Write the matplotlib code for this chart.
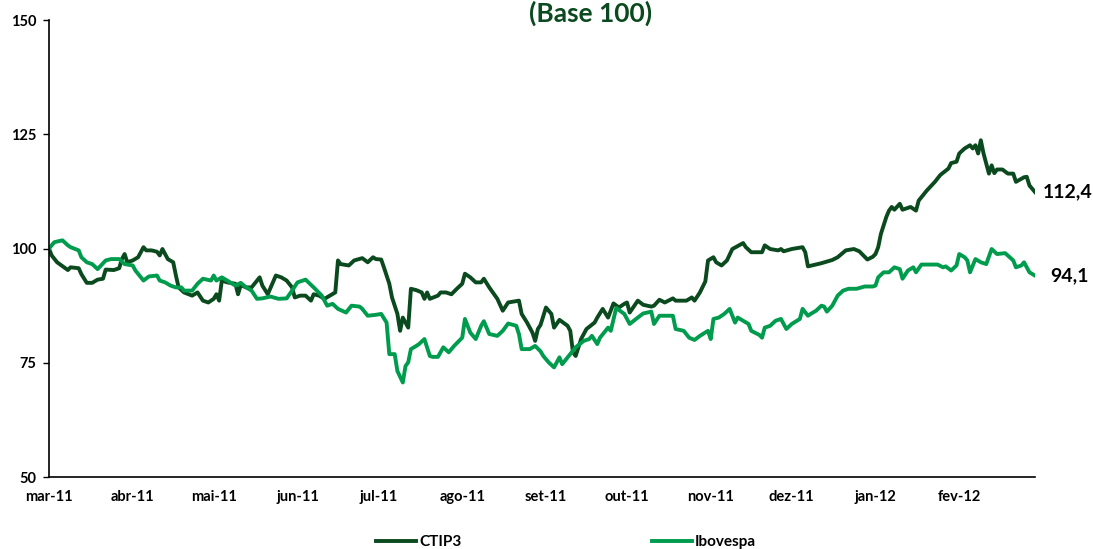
"""CTIP3 vs Ibovespa, base 100 (mar-11 to fev-12)."""

import matplotlib
matplotlib.use("Agg")
import matplotlib.pyplot as plt
import pandas as pd

START = pd.Timestamp("2011-03-01")

# calendar-day offsets from START and the base-100 values
ctip3_days = [0, 1, 3, 7, 8, 11, 12, 14, 16, 18, 20, 21, 24, 26, 27, 28, 29, 31, 33, 35,
              36, 38, 40, 41, 42, 44, 46, 47, 48, 50, 53, 55, 57, 59, 61, 62, 63, 64, 66, 69,
              70, 71, 73, 75, 78, 79, 81, 84, 86, 88, 90, 91, 93, 95, 97, 98, 100, 102, 104, 106,
              107, 108, 111, 113, 116, 118, 120, 121, 123, 124, 126, 127, 129, 130, 131, 133, 134, 136, 138, 139,
              140, 141, 144, 145, 147, 149, 151, 153, 154, 156, 158, 160, 161, 163, 166, 168, 170, 174, 175, 177,
              179, 180, 181, 182, 184, 186, 187, 189, 192, 193, 194, 195, 197, 199, 202, 203, 205, 207, 209, 211,
              213, 214, 215, 218, 220, 223, 224, 226, 228, 231, 232, 236, 238, 239, 241, 243, 244, 246, 247, 249,
              251, 253, 257, 258, 260, 264, 265, 267, 270, 271, 272, 275, 279, 280, 281, 286, 290, 292, 295, 298,
              300, 303, 305, 306, 307, 308, 310, 311, 312, 313, 315, 316, 319, 321, 322, 325, 328, 330, 333, 334,
              336, 337, 339, 341, 342, 343, 344, 345, 346, 347, 348, 349, 350, 351, 353, 355, 357, 358, 361, 362,
              363, 365]
ctip3_vals = [100.0, 98.5, 97.0, 95.3, 95.9, 95.7, 94.4, 92.5, 92.5, 93.2, 93.4, 95.4, 95.3, 95.7, 97.7, 98.8, 97.0, 97.4, 98.1, 100.3,
              99.6, 99.6, 99.3, 98.5, 99.9, 97.7, 97.0, 94.1, 91.5, 90.4, 89.7, 90.4, 88.6, 88.2, 89.0, 90.0, 88.6, 93.0, 92.6, 92.3,
              90.0, 92.0, 91.5, 91.5, 93.7, 91.9, 90.0, 94.1, 93.7, 93.0, 91.5, 89.3, 89.7, 89.7, 88.6, 90.0, 89.7, 89.0, 89.7, 90.4,
              97.4, 96.6, 96.3, 97.4, 97.9, 97.0, 98.1, 97.7, 97.6, 95.9, 92.3, 89.3, 85.7, 82.0, 84.9, 82.7, 91.2, 90.9, 90.4, 89.0,
              90.4, 89.0, 89.7, 90.4, 90.4, 90.0, 91.2, 92.3, 94.5, 93.7, 92.6, 92.6, 93.4, 91.5, 89.0, 86.4, 88.2, 88.6, 85.7, 83.8,
              81.6, 79.8, 82.4, 83.3, 87.1, 85.7, 82.7, 84.4, 83.1, 82.0, 77.3, 76.5, 80.2, 82.4, 83.8, 84.9, 86.8, 84.9, 88.0, 87.1,
              87.9, 88.2, 86.0, 88.6, 87.7, 87.3, 87.5, 88.8, 88.2, 89.1, 88.6, 88.6, 89.3, 88.6, 90.4, 92.8, 97.4, 98.1, 97.0, 96.3,
              97.4, 99.9, 101.2, 100.3, 99.2, 99.2, 100.7, 99.9, 99.6, 99.9, 99.4, 99.9, 100.3, 99.2, 96.1, 96.8, 97.5, 98.1, 99.6, 99.9,
              99.4, 97.6, 98.2, 98.8, 100.3, 103.2, 106.9, 108.3, 109.1, 108.5, 109.8, 108.5, 109.1, 108.3, 110.5, 112.7, 114.6, 116.1, 117.5, 118.7,
              119.0, 120.8, 121.9, 122.6, 121.9, 122.6, 120.8, 123.7, 120.8, 118.6, 116.4, 118.2, 116.5, 117.3, 117.3, 116.4, 116.4, 114.6, 115.6, 115.7,
              113.8, 112.4]

ibov_days = [0, 2, 5, 7, 8, 11, 12, 14, 16, 18, 21, 23, 26, 28, 31, 32, 35, 37, 40, 41,
             43, 45, 47, 49, 50, 53, 55, 57, 60, 61, 62, 64, 66, 69, 71, 73, 75, 77, 79, 82,
             85, 88, 90, 92, 95, 98, 101, 103, 105, 107, 110, 112, 115, 116, 118, 121, 123, 125, 126, 128,
             129, 131, 132, 133, 134, 136, 137, 139, 141, 142, 144, 146, 148, 150, 153, 154, 156, 158, 160, 161,
             163, 166, 168, 170, 173, 174, 175, 178, 180, 182, 183, 185, 187, 189, 190, 193, 195, 198, 200, 201,
             203, 204, 207, 208, 210, 213, 215, 218, 220, 223, 224, 226, 231, 232, 235, 237, 239, 241, 244, 245,
             246, 248, 250, 252, 254, 255, 257, 259, 260, 263, 264, 265, 267, 269, 271, 273, 275, 278, 279, 281,
             282, 284, 286, 287, 288, 290, 292, 294, 296, 299, 302, 305, 306, 307, 309, 311, 313, 315, 316, 318,
             320, 321, 323, 329, 331, 332, 334, 336, 337, 339, 340, 341, 343, 345, 347, 349, 351, 354, 357, 358,
             360, 361, 363, 365]
ibov_vals = [100.0, 101.4, 101.8, 100.7, 100.3, 99.6, 98.1, 97.0, 96.6, 95.5, 97.4, 97.7, 97.7, 96.6, 96.3, 95.2, 93.0, 93.9, 94.1, 93.0,
             92.6, 91.9, 91.5, 91.5, 90.8, 90.8, 92.3, 93.4, 93.0, 94.1, 93.0, 93.7, 93.0, 91.9, 92.5, 91.5, 90.8, 89.0, 89.1, 89.5,
             89.0, 89.1, 90.8, 92.6, 93.2, 91.5, 89.7, 87.5, 87.9, 86.8, 86.0, 87.5, 87.3, 86.8, 85.3, 85.5, 85.7, 83.8, 76.9, 76.9,
             73.2, 70.7, 74.3, 75.1, 78.0, 78.7, 79.1, 80.2, 76.5, 76.3, 76.3, 78.4, 77.3, 78.7, 80.5, 84.6, 81.6, 80.2, 83.1, 84.1,
             81.3, 80.9, 82.0, 83.6, 83.1, 81.3, 78.0, 78.0, 78.7, 77.5, 76.5, 75.1, 74.0, 76.2, 74.7, 76.9, 78.4, 79.8, 80.2, 80.9,
             79.1, 80.5, 82.7, 82.0, 87.0, 85.7, 83.5, 84.9, 85.8, 86.2, 83.5, 85.3, 85.3, 82.4, 82.0, 80.5, 80.0, 80.9, 82.0, 80.2,
             84.6, 84.9, 85.7, 86.8, 83.8, 84.9, 84.2, 83.5, 82.0, 81.1, 80.5, 82.7, 83.1, 84.2, 84.6, 82.4, 83.5, 84.6, 86.8, 85.3,
             85.7, 86.4, 87.5, 87.3, 86.2, 87.5, 89.7, 90.8, 91.2, 91.2, 91.7, 91.7, 91.9, 93.7, 94.8, 94.8, 95.9, 95.5, 93.4, 95.2,
             95.9, 94.8, 96.5, 96.5, 95.9, 96.1, 95.2, 96.3, 98.8, 98.1, 97.4, 94.8, 97.7, 97.0, 96.6, 99.9, 98.8, 99.0, 97.4, 95.9,
             96.3, 97.0, 94.8, 94.1]

month_labels = ["mar-11", "abr-11", "mai-11", "jun-11", "jul-11", "ago-11",
                "set-11", "out-11", "nov-11", "dez-11", "jan-12", "fev-12"]
last_labels = ["112,4", "94,1"]

DARK = "#0b4a1e"
LIGHT = "#009c4e"

plt.rcParams["font.family"] = ["Lato", "DejaVu Sans"]
plt.rcParams["font.weight"] = "bold"

ctip3_x = START + pd.to_timedelta(ctip3_days, unit="D")
ibov_x = START + pd.to_timedelta(ibov_days, unit="D")

fig = plt.figure(figsize=(10.93, 5.49), dpi=100)
ax = fig.add_axes([0.0448, 0.131, 0.902, 0.8325])

ax.plot(ctip3_x, ctip3_vals, color=DARK, lw=2.8, label="CTIP3", solid_joinstyle="round")
ax.plot(ibov_x, ibov_vals, color=LIGHT, lw=2.8, label="Ibovespa", solid_joinstyle="round")

ax.annotate(last_labels[0], xy=(ctip3_x[-1], ctip3_vals[-1]), xytext=(6, 0),
            textcoords="offset points", va="center", ha="left", fontsize=14,
            fontweight="bold", color="black")
ax.annotate(last_labels[1], xy=(ibov_x[-1], ibov_vals[-1]), xytext=(11, 0),
            textcoords="offset points", va="center", ha="left", fontsize=14,
            fontweight="bold", color="black")

ax.set_ylim(50, 150)
ax.set_yticks([50, 75, 100, 125, 150])
ax.set_xlim(START, pd.Timestamp("2012-02-29"))
ticks = pd.date_range(START, periods=len(month_labels), freq="MS")
ax.set_xticks(ticks)
ax.set_xticklabels(month_labels)

for s in ["top", "right"]:
    ax.spines[s].set_visible(False)
for s in ["left", "bottom"]:
    ax.spines[s].set_color("black")
    ax.spines[s].set_linewidth(1.2)
ax.tick_params(axis="y", direction="out", length=4, width=1, labelsize=10.5, pad=5)
ax.tick_params(axis="x", length=0, labelsize=10.5, pad=9)
for lab in ax.get_xticklabels() + ax.get_yticklabels():
    lab.set_fontweight("bold")

# title hugs the top edge of the canvas
fig.text(0.54, 0.999, "(Base 100)", ha="center", va="top",
         fontsize=19, fontweight="bold", color=DARK)

fig.legend(loc="center", bbox_to_anchor=(0.518, 0.012), ncol=2, frameon=False,
           handlelength=2.6, handletextpad=0.2, columnspacing=12.5,
           prop={"weight": "bold", "size": 11})

fig.savefig("out.png", dpi=100)
